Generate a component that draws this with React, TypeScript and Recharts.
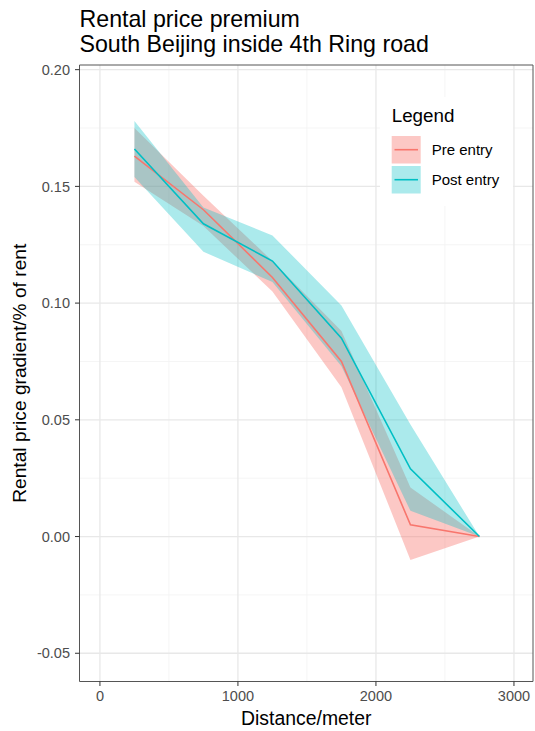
import React from "react";
import {
  ComposedChart,
  Area,
  Line,
  XAxis,
  YAxis,
  CartesianGrid,
  ReferenceArea,
} from "recharts";

// distance bands (meters)
const distances = [250, 750, 1250, 1750, 2250, 2750];

// pre entry estimate with confidence band
const preEntry = [0.163, 0.140, 0.111, 0.075, 0.005, 0];
const preLow = [0.152, 0.133, 0.105, 0.064, -0.010, 0];
const preHigh = [0.175, 0.146, 0.118, 0.088, 0.021, 0];

// post entry estimate with confidence band
const postEntry = [0.166, 0.134, 0.118, 0.085, 0.029, 0];
const postLow = [0.154, 0.122, 0.109, 0.073, 0.011, 0];
const postHigh = [0.178, 0.141, 0.129, 0.099, 0.048, 0];

const xTicks = [0, 1000, 2000, 3000];
const xMinor = [500, 1500, 2500];
const yTicks = [-0.05, 0, 0.05, 0.1, 0.15, 0.2];
const yMinor = [-0.025, 0.025, 0.075, 0.125, 0.175];

const xDomain: [number, number] = [-148, 3138];
const yDomain: [number, number] = [-0.0621, 0.202];

const RED = "#F8766D";
const CYAN = "#00BFC4";
const FONT = "'Liberation Sans', Arial, Helvetica, sans-serif";

const data = distances.map((d, i) => ({
  distance: d,
  pre: preEntry[i],
  preBand: [preLow[i], preHigh[i]],
  post: postEntry[i],
  postBand: [postLow[i], postHigh[i]],
}));

const YLabel = (props: any) => {
  const vb = props.viewBox || { x: 0, y: 0, height: 0 };
  const x = vb.x + 26;
  const y = vb.y + vb.height / 2;
  return (
    <text
      x={x}
      y={y}
      transform={`rotate(-90 ${x} ${y})`}
      textAnchor="middle"
      fontSize={19.2}
      fontFamily={FONT}
      fill="#000"
    >
      Rental price gradient/% of rent
    </text>
  );
};

const App: React.FC = () => {
  return (
    <div
      style={{
        position: "absolute",
        left: 0,
        top: 0,
        width: 535,
        height: 731,
        background: "#fff",
        fontFamily: FONT,
      }}
    >
      <ComposedChart
        width={535}
        height={731}
        data={data}
        margin={{ top: 65, right: 2, bottom: 0, left: 0 }}
      >
        <CartesianGrid
          stroke="#F2F2F2"
          strokeWidth={0.8}
          horizontalValues={yMinor}
          verticalValues={xMinor}
        />
        <CartesianGrid
          stroke="#E8E8E8"
          strokeWidth={1.3}
          horizontalValues={yTicks}
          verticalValues={xTicks}
        />
        <XAxis
          dataKey="distance"
          type="number"
          domain={xDomain}
          ticks={xTicks}
          interval={0}
          allowDataOverflow
          height={49.5}
          axisLine={false}
          tickLine={{ stroke: "#333" }}
          tickSize={4.5}
          tickMargin={5}
          tick={{ fill: "#4D4D4D", fontSize: 14.5, fontFamily: FONT }}
          label={{
            value: "Distance/meter",
            position: "insideBottom",
            offset: 6.5,
            style: { fontSize: 19.4, fontFamily: FONT, fill: "#000" },
          }}
        />
        <YAxis
          type="number"
          domain={yDomain}
          ticks={yTicks}
          interval={0}
          allowDataOverflow
          width={79.5}
          axisLine={false}
          tickLine={{ stroke: "#333" }}
          tickSize={4.5}
          tickMargin={5}
          tickFormatter={(v: number) => v.toFixed(2)}
          tick={{ fill: "#4D4D4D", fontSize: 14.5, fontFamily: FONT }}
          label={{ content: YLabel }}
        />
        <Area
          type="linear"
          dataKey="preBand"
          stroke="none"
          fill={RED}
          fillOpacity={0.4}
          isAnimationActive={false}
          activeDot={false}
        />
        <Line
          type="linear"
          dataKey="pre"
          stroke={RED}
          strokeWidth={1.6}
          dot={false}
          activeDot={false}
          isAnimationActive={false}
        />
        <Area
          type="linear"
          dataKey="postBand"
          stroke="none"
          fill={CYAN}
          fillOpacity={0.33}
          isAnimationActive={false}
          activeDot={false}
        />
        <Line
          type="linear"
          dataKey="post"
          stroke={CYAN}
          strokeWidth={1.6}
          dot={false}
          activeDot={false}
          isAnimationActive={false}
        />
        <ReferenceArea
          x1={xDomain[0]}
          x2={xDomain[1]}
          y1={yDomain[0]}
          y2={yDomain[1]}
          fill="none"
          stroke="#555"
          strokeWidth={1}
          ifOverflow="visible"
        />
      </ComposedChart>

      {/* title */}
      <svg
        width={535}
        height={60}
        style={{ position: "absolute", left: 0, top: 0, pointerEvents: "none" }}
      >
        <text x={79.5} y={27} fontSize={23.2} fontFamily={FONT} fill="#000">
          Rental price premium
        </text>
        <text x={79.5} y={51.5} fontSize={23.2} fontFamily={FONT} fill="#000">
          South Beijing inside 4th Ring road
        </text>
      </svg>

      {/* legend */}
      <svg
        width={133}
        height={109}
        style={{ position: "absolute", left: 380, top: 97, pointerEvents: "none" }}
      >
        <rect x={0} y={0} width={133} height={109} fill="#fff" />
        <text x={11.7} y={25.3} fontSize={18.8} fontFamily={FONT} fill="#000">
          Legend
        </text>
        <rect x={11.7} y={39} width={29} height={27.5} fill={RED} fillOpacity={0.4} />
        <line x1={14.5} x2={38} y1={52.7} y2={52.7} stroke={RED} strokeWidth={1.6} />
        <text x={51.7} y={58} fontSize={15} fontFamily={FONT} fill="#000">
          Pre entry
        </text>
        <rect x={11.7} y={69} width={29} height={27.5} fill={CYAN} fillOpacity={0.33} />
        <line x1={14.5} x2={38} y1={82.7} y2={82.7} stroke={CYAN} strokeWidth={1.6} />
        <text x={51.7} y={88} fontSize={15} fontFamily={FONT} fill="#000">
          Post entry
        </text>
      </svg>
    </div>
  );
};

export default App;
